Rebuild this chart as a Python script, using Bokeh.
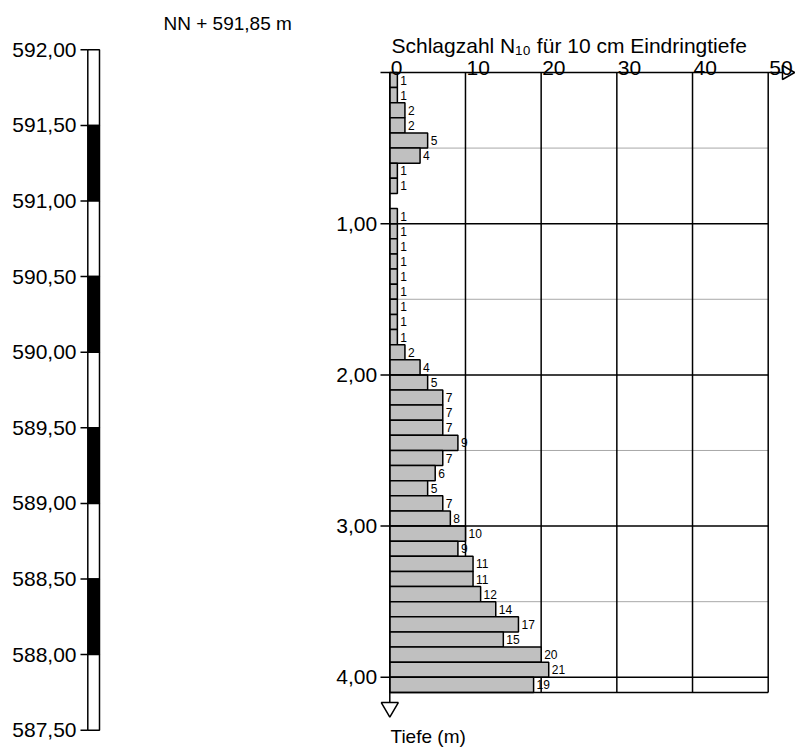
import math
from bokeh.plotting import figure
from bokeh.models import Range1d, Label
from bokeh.embed import file_html
from bokeh.resources import INLINE
from bokeh.core.properties import value

# ---------------- data ----------------
ground_level = 591.85          # NN + 591,85 m
bin_size = 0.1                 # 10 cm penetration steps
depth_from = [0.0, 0.1, 0.2, 0.3, 0.4, 0.5, 0.6, 0.7, 0.8, 0.9,
              1.0, 1.1, 1.2, 1.3, 1.4, 1.5, 1.6, 1.7, 1.8, 1.9,
              2.0, 2.1, 2.2, 2.3, 2.4, 2.5, 2.6, 2.7, 2.8, 2.9,
              3.0, 3.1, 3.2, 3.3, 3.4, 3.5, 3.6, 3.7, 3.8, 3.9,
              4.0]
blows = [1, 1, 2, 2, 5, 4, 1, 1, 0, 1,
         1, 1, 1, 1, 1, 1, 1, 1, 2, 4,
         5, 7, 7, 7, 9, 7, 6, 5, 7, 8,
         10, 9, 11, 11, 12, 14, 17, 15, 20, 21,
         19]
x_ticks = [0, 10, 20, 30, 40, 50]
x_tick_labels = ["0", "10", "20", "30", "40", "50"]
depth_ticks = [1.0, 2.0, 3.0, 4.0]
depth_tick_labels = ["1,00", "2,00", "3,00", "4,00"]
half_depths = [0.5, 1.5, 2.5, 3.5]
elev_ticks = [592.0, 591.5, 591.0, 590.5, 590.0, 589.5, 589.0, 588.5, 588.0, 587.5]
elev_tick_labels = ["592,00", "591,50", "591,00", "590,50", "590,00",
                    "589,50", "589,00", "588,50", "588,00", "587,50"]
column_top = [592.0, 591.5, 591.0, 590.5, 590.0, 589.5, 589.0, 588.5, 588.0]
column_bottom = [591.5, 591.0, 590.5, 590.0, 589.5, 589.0, 588.5, 588.0, 587.5]
column_fill = ["white", "black", "white", "black", "white", "black", "white", "black", "white"]

title_text = "Schlagzahl N\u2081\u2080 f\u00fcr 10 cm Eindringtiefe"
level_text = "NN + 591,85 m"
depth_axis_text = "Tiefe (m)"

# ---------------- layout (pixels) ----------------
W, H = 796, 749
PX_N0, PX_N50 = 389.3, 767.7      # pixel x of N=0 and N=50
PX_ELEV_TOP = 49.3                # pixel y of top elevation tick
PX_PER_M = 151.2
FONT = "Liberation Sans"
BIG = "21px"

x_max = x_ticks[-1]
depth_max = depth_from[-1] + bin_size
elev_max = elev_ticks[0]
ux = (PX_N50 - PX_N0) / x_max
D0 = PX_ELEV_TOP + (elev_max - ground_level) * PX_PER_M   # pixel y of depth 0

p = figure(width=W, height=H, output_backend="svg", toolbar_location=None,
           min_border=0, x_axis_location=None, y_axis_location=None,
           x_range=Range1d(-PX_N0 / ux, (W - PX_N0) / ux),
           y_range=Range1d((H - D0) / PX_PER_M, -D0 / PX_PER_M))
p.grid.visible = False
p.outline_line_color = None
p.background_fill_color = "white"
p.border_fill_color = "white"
p.extra_x_ranges = {"px": Range1d(0, W)}
p.extra_y_ranges = {"elev": Range1d(elev_max - (H - PX_ELEV_TOP) / PX_PER_M,
                                    elev_max + PX_ELEV_TOP / PX_PER_M)}

# ---------- left elevation column ----------
COL_L, COL_R, TICK_L, LAB_R = 87.3, 99.0, 80.0, 76.0
p.quad(left=COL_L, right=COL_R, top=column_top, bottom=column_bottom,
       fill_color=column_fill, line_color="black", line_width=1.5,
       x_range_name="px", y_range_name="elev")
p.segment(x0=TICK_L, x1=COL_L, y0=elev_ticks, y1=elev_ticks, line_color="black",
          line_width=1.5, x_range_name="px", y_range_name="elev")
p.text(x=LAB_R, y=elev_ticks, text=elev_tick_labels, text_align="right",
       text_baseline="middle", text_font=value(FONT), text_font_size=BIG,
       text_color="black", x_range_name="px", y_range_name="elev")

# ---------- right chart ----------
tick_u = 9.3 / ux
p.segment(x0=0, x1=x_max, y0=half_depths, y1=half_depths, line_color="#a8a8a8", line_width=1)
p.segment(x0=x_ticks[1:], x1=x_ticks[1:], y0=0, y1=depth_max, line_color="black", line_width=1.5)

depth_to = [d + bin_size for d in depth_from]
p.quad(left=0, right=blows, top=depth_from, bottom=depth_to,
       fill_color="#c0c0c0", line_color="black", line_width=1.5)

p.segment(x0=-tick_u, x1=x_max, y0=depth_ticks, y1=depth_ticks, line_color="black", line_width=1.5)
p.segment(x0=0, x1=x_max, y0=depth_max, y1=depth_max, line_color="black", line_width=1.5)

# axes lines + arrows
arrow_x_base = (782 - PX_N0) / ux
arrow_d_base = (702 - D0) / PX_PER_M
p.segment(x0=-tick_u, x1=arrow_x_base, y0=0, y1=0, line_color="black", line_width=1.5)
p.segment(x0=0, x1=0, y0=0, y1=arrow_d_base, line_color="black", line_width=1.5)
S_DOWN, S_RIGHT = 17, 14
p.scatter(x=0, y=arrow_d_base + (S_DOWN * math.sqrt(3) / 2 / 3) / PX_PER_M,
          marker="inverted_triangle", size=S_DOWN, fill_color="white",
          line_color="black", line_width=1.5)
p.scatter(x=arrow_x_base + (S_RIGHT * math.sqrt(3) / 2 / 3) / ux, y=0,
          marker="triangle", angle=-math.pi / 2, size=S_RIGHT, fill_color="white",
          line_color="black", line_width=1.5)

# tick labels
p.text(x=x_ticks, y=-4.0 / PX_PER_M, text=x_tick_labels, text_align="left",
       text_baseline="alphabetic", x_offset=1, text_font=value(FONT),
       text_font_size=BIG, text_color="black")
p.text(x=0, y=depth_ticks, text=depth_tick_labels, text_align="right",
       text_baseline="middle", x_offset=-12.6, text_font=value(FONT),
       text_font_size=BIG, text_color="black")

# bar value labels
lab_x = [b for b in blows if b > 0]
lab_y = [d + bin_size / 2 for d, b in zip(depth_from, blows) if b > 0]
lab_t = [str(b) for b in blows if b > 0]
p.text(x=lab_x, y=lab_y, text=lab_t, text_align="left", text_baseline="middle",
       x_offset=3, text_font=value(FONT), text_font_size="12px", text_color="black")

# titles
p.add_layout(Label(x=163, y=H - 23, x_units="screen", y_units="screen", text=level_text,
                   text_font=FONT, text_font_size="19px", text_color="black",
                   text_baseline="alphabetic"))
p.add_layout(Label(x=391, y=H - 45, x_units="screen", y_units="screen", text=title_text,
                   text_font=FONT, text_font_size=BIG, text_color="black",
                   text_baseline="alphabetic"))
p.add_layout(Label(x=390, y=H - 736, x_units="screen", y_units="screen", text=depth_axis_text,
                   text_font=FONT, text_font_size="19px", text_color="black",
                   text_baseline="alphabetic"))

open("out.html", "w").write(file_html(p, INLINE))
